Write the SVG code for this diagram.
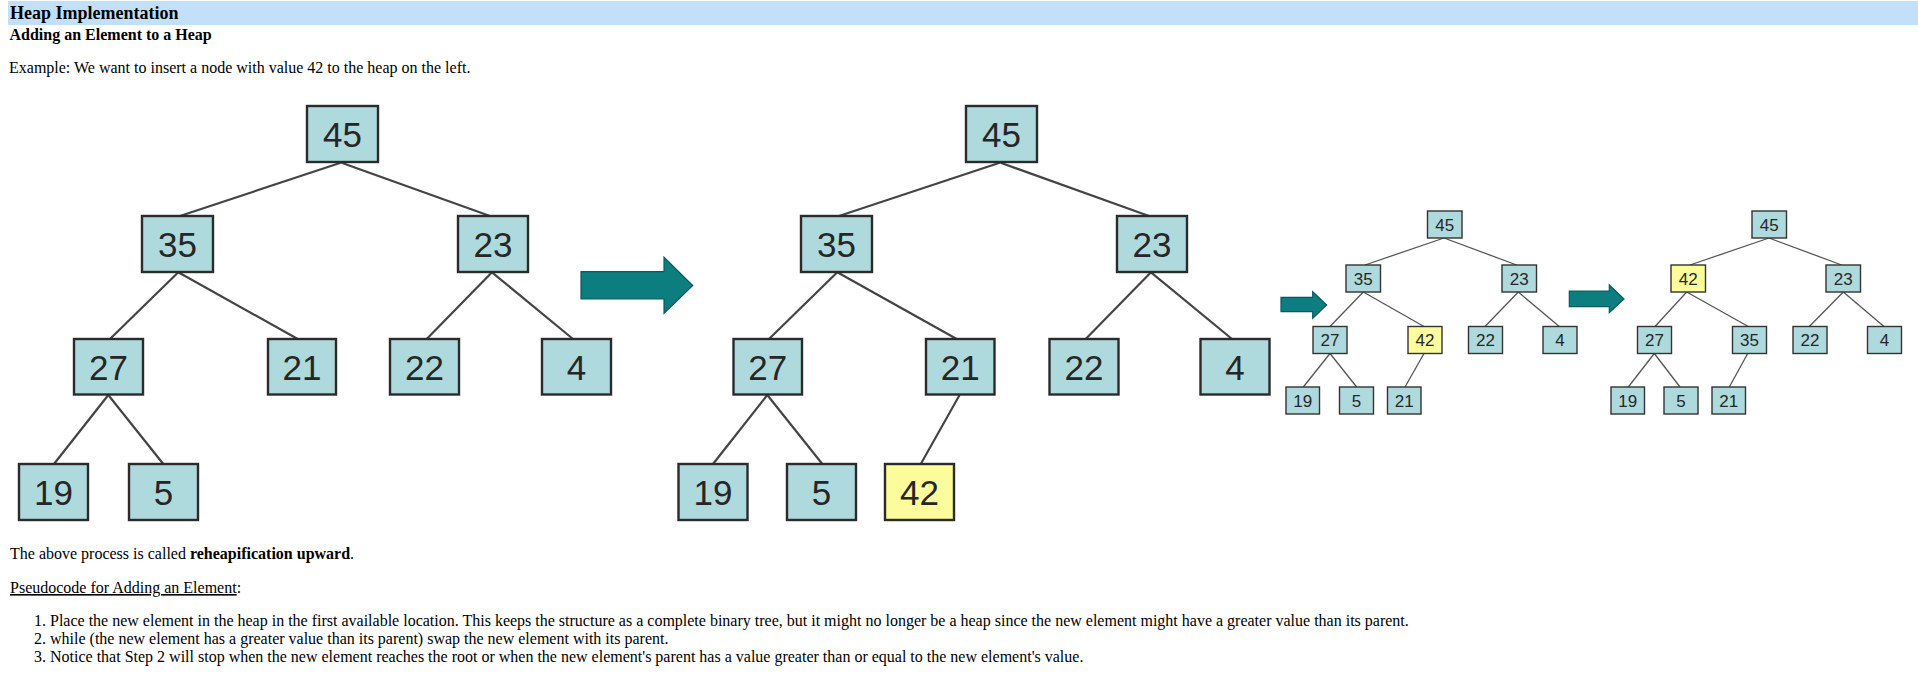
<svg xmlns="http://www.w3.org/2000/svg" width="1918" height="684" viewBox="0 0 1918 684">
<style>
.t{font-family:"Liberation Serif","Times New Roman",serif;fill:#000}
.b{font-weight:bold}
.big rect{fill:#afdadd;stroke:#2b2b2b;stroke-width:2.4}
.big rect.y{fill:#fcfc9c}
.big text{font-family:"Liberation Sans",Arial,sans-serif;font-size:35px;fill:#262626;text-anchor:middle}
.sm rect{fill:#afdadd;stroke:#333;stroke-width:1.4}
.sm rect.y{fill:#fcfc9c}
.sm text{font-family:"Liberation Sans",Arial,sans-serif;font-size:17px;fill:#262626;text-anchor:middle}
.eb line{stroke:#444;stroke-width:2.2}
.es line{stroke:#555;stroke-width:1.3}
.arr{fill:#0d7e80;stroke:#0a5a5c;stroke-width:1.2}
</style>
<rect x="8" y="1" width="1910" height="24" fill="#c2e0fa"/>
<text class="t b" x="10" y="19" font-size="18">Heap Implementation</text>
<text class="t b" x="9.5" y="40" font-size="16">Adding an Element to a Heap</text>
<text class="t" x="9" y="73" font-size="16">Example: We want to insert a node with value 42 to the heap on the left.</text>

<g id="connectors">
<g class="eb">
<line x1="340.7" y1="162.7" x2="180" y2="216"/>
<line x1="341.5" y1="162.7" x2="490" y2="216"/>
<line x1="178.3" y1="272.3" x2="110" y2="339"/>
<line x1="178.3" y1="272.3" x2="297.7" y2="339"/>
<line x1="492" y1="272.3" x2="426.7" y2="339"/>
<line x1="492" y1="272.3" x2="573" y2="339"/>
<line x1="108.3" y1="395" x2="54" y2="464"/>
<line x1="108.3" y1="395" x2="163.3" y2="464"/>
<line x1="999.7" y1="162.7" x2="839" y2="216"/>
<line x1="1000.5" y1="162.7" x2="1149" y2="216"/>
<line x1="837.3" y1="272.3" x2="769" y2="339"/>
<line x1="837.3" y1="272.3" x2="956.7" y2="339"/>
<line x1="1151" y1="272.3" x2="1085.7" y2="339"/>
<line x1="1151" y1="272.3" x2="1232" y2="339"/>
<line x1="767.3" y1="395" x2="713" y2="464"/>
<line x1="767.3" y1="395" x2="822.3" y2="464"/>
<line x1="959.6" y1="395" x2="920.8" y2="464"/>
</g>
<g class="es">
<line x1="1444" y1="238" x2="1365" y2="265"/>
<line x1="1444" y1="238" x2="1516.7" y2="265"/>
<line x1="1363.3" y1="292" x2="1330" y2="326.5"/>
<line x1="1363.3" y1="292" x2="1424" y2="326.5"/>
<line x1="1518.3" y1="292" x2="1485" y2="326.5"/>
<line x1="1518.3" y1="292" x2="1559.3" y2="326.5"/>
<line x1="1330" y1="353.5" x2="1303.3" y2="387"/>
<line x1="1330" y1="353.5" x2="1356.7" y2="387"/>
<line x1="1424" y1="353.5" x2="1405" y2="387"/>
<line x1="1769" y1="238" x2="1690" y2="265"/>
<line x1="1769" y1="238" x2="1841.7" y2="265"/>
<line x1="1686.7" y1="292" x2="1655" y2="326.5"/>
<line x1="1686.7" y1="292" x2="1748.3" y2="326.5"/>
<line x1="1843.3" y1="292" x2="1809.3" y2="326.5"/>
<line x1="1843.3" y1="292" x2="1884" y2="326.5"/>
<line x1="1654.3" y1="353.5" x2="1628.3" y2="387"/>
<line x1="1654.3" y1="353.5" x2="1680" y2="387"/>
<line x1="1747.7" y1="353.5" x2="1729.3" y2="387"/>
</g>
<path class="arr" d="M581,271.7 H664 V257.3 L692.7,285.5 L664,313.3 V299 H581 Z"/>
<path class="arr" d="M1281,297.3 H1312.7 V291.7 L1326.7,305 L1312.7,318.3 V311.7 H1281 Z"/>
<path class="arr" d="M1569.3,291 H1609.3 V285 L1624,299 L1609.3,312.7 V306.7 H1569.3 Z"/>
</g>

<g class="big">
<g id="t1-45"><rect x="307" y="106" width="71" height="56"/><text x="342.5" y="146.5">45</text></g>
<g id="t1-35"><rect x="142" y="216" width="71" height="56"/><text x="177.5" y="256.5">35</text></g>
<g id="t1-23"><rect x="458" y="216" width="70" height="56"/><text x="493" y="256.5">23</text></g>
<g id="t1-27"><rect x="74" y="339" width="69" height="55.5"/><text x="108.5" y="379.5">27</text></g>
<g id="t1-21"><rect x="268" y="339" width="68" height="55.5"/><text x="302" y="379.5">21</text></g>
<g id="t1-22"><rect x="390" y="339" width="69" height="55.5"/><text x="424.5" y="379.5">22</text></g>
<g id="t1-4"><rect x="542" y="339" width="69" height="55.5"/><text x="576.5" y="379.5">4</text></g>
<g id="t1-19"><rect x="19" y="464" width="69" height="56"/><text x="53.5" y="504.5">19</text></g>
<g id="t1-5"><rect x="129" y="464" width="69" height="56"/><text x="163.5" y="504.5">5</text></g>

<g id="t2-45"><rect x="966" y="106" width="71" height="56"/><text x="1001.5" y="146.5">45</text></g>
<g id="t2-35"><rect x="801" y="216" width="71" height="56"/><text x="836.5" y="256.5">35</text></g>
<g id="t2-23"><rect x="1117" y="216" width="70" height="56"/><text x="1152" y="256.5">23</text></g>
<g id="t2-27"><rect x="733.5" y="339" width="68.5" height="55.5"/><text x="767.7" y="379.5">27</text></g>
<g id="t2-21"><rect x="926" y="339" width="68.5" height="55.5"/><text x="960.2" y="379.5">21</text></g>
<g id="t2-22"><rect x="1049.5" y="339" width="69" height="55.5"/><text x="1084" y="379.5">22</text></g>
<g id="t2-4"><rect x="1200.5" y="339" width="69" height="55.5"/><text x="1235" y="379.5">4</text></g>
<g id="t2-19"><rect x="678.5" y="464" width="69" height="56"/><text x="713" y="504.5">19</text></g>
<g id="t2-5"><rect x="787" y="464" width="69" height="56"/><text x="821.5" y="504.5">5</text></g>
<g id="t2-42"><rect class="y" x="885" y="464" width="69" height="56"/><text x="919.5" y="504.5">42</text></g>
</g>

<g class="sm">
<g id="t3-45"><rect x="1427.5" y="211" width="34.5" height="27"/><text x="1444.7" y="230.5">45</text></g>
<g id="t3-35"><rect x="1346" y="265" width="34.5" height="27"/><text x="1363.2" y="284.5">35</text></g>
<g id="t3-23"><rect x="1502" y="265" width="34.5" height="27"/><text x="1519.2" y="284.5">23</text></g>
<g id="t3-27"><rect x="1313" y="326.5" width="34" height="27"/><text x="1330" y="346">27</text></g>
<g id="t3-42"><rect class="y" x="1408" y="326.5" width="34" height="27"/><text x="1425" y="346">42</text></g>
<g id="t3-22"><rect x="1468.5" y="326.5" width="34" height="27"/><text x="1485.5" y="346">22</text></g>
<g id="t3-4"><rect x="1543" y="326.5" width="34" height="27"/><text x="1560" y="346">4</text></g>
<g id="t3-19"><rect x="1286" y="387" width="33.5" height="27"/><text x="1302.7" y="406.5">19</text></g>
<g id="t3-5"><rect x="1339.5" y="387" width="34" height="27"/><text x="1356.5" y="406.5">5</text></g>
<g id="t3-21"><rect x="1387.5" y="387" width="33.5" height="27"/><text x="1404.2" y="406.5">21</text></g>

<g id="t4-45"><rect x="1752" y="211" width="34.5" height="27"/><text x="1769.2" y="230.5">45</text></g>
<g id="t4-42"><rect class="y" x="1671" y="265" width="34.5" height="27"/><text x="1688.2" y="284.5">42</text></g>
<g id="t4-23"><rect x="1826" y="265" width="34.5" height="27"/><text x="1843.2" y="284.5">23</text></g>
<g id="t4-27"><rect x="1637.5" y="326.5" width="34" height="27"/><text x="1654.5" y="346">27</text></g>
<g id="t4-35"><rect x="1732.5" y="326.5" width="34" height="27"/><text x="1749.5" y="346">35</text></g>
<g id="t4-22"><rect x="1793" y="326.5" width="34" height="27"/><text x="1810" y="346">22</text></g>
<g id="t4-4"><rect x="1867.5" y="326.5" width="34" height="27"/><text x="1884.5" y="346">4</text></g>
<g id="t4-19"><rect x="1611" y="387" width="33.5" height="27"/><text x="1627.7" y="406.5">19</text></g>
<g id="t4-5"><rect x="1664" y="387" width="34" height="27"/><text x="1681" y="406.5">5</text></g>
<g id="t4-21"><rect x="1712" y="387" width="33.5" height="27"/><text x="1728.7" y="406.5">21</text></g>
</g>

<text class="t" x="10" y="559" font-size="16">The above process is called <tspan class="b">reheapification upward</tspan>.</text>
<text class="t" x="10" y="593" font-size="16"><tspan text-decoration="underline">Pseudocode for Adding an Element</tspan>:</text>
<g class="t" font-size="16">
<text x="46" y="626" text-anchor="end">1.</text>
<text x="50" y="626">Place the new element in the heap in the first available location. This keeps the structure as a complete binary tree, but it might no longer be a heap since the new element might have a greater value than its parent.</text>
<text x="46" y="644" text-anchor="end">2.</text>
<text x="50" y="644">while (the new element has a greater value than its parent) swap the new element with its parent.</text>
<text x="46" y="662" text-anchor="end">3.</text>
<text x="50" y="662">Notice that Step 2 will stop when the new element reaches the root or when the new element's parent has a value greater than or equal to the new element's value.</text>
</g>
</svg>
